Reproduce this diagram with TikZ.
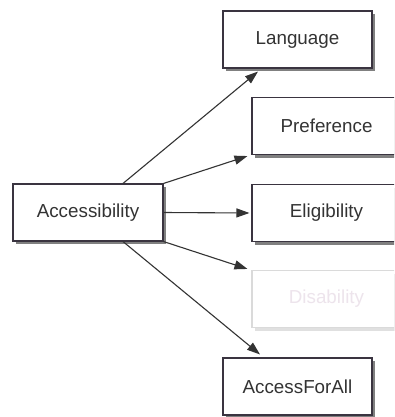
\documentclass[tikz,border=0pt]{standalone}
\usepackage{fontspec}
\setmainfont{Liberation Sans}
\usetikzlibrary{arrows.meta,shadows}
\definecolor{ink}{HTML}{333333}
\definecolor{edge}{HTML}{3A3440}
\definecolor{faint}{HTML}{DADADA}
\definecolor{faintText}{HTML}{EDE4EC}
\tikzset{
  box/.style={draw=edge, line width=1.1pt, fill=white, text=ink,
    minimum width=149pt, minimum height=57pt, inner sep=0pt,
    font=\fontsize{18.8}{22}\selectfont,
    drop shadow={shadow xshift=3pt, shadow yshift=-3pt, fill=black!50, opacity=1}},
  greybox/.style={box, draw=faint, text=faintText,
    drop shadow={shadow xshift=3pt, shadow yshift=-3pt, fill=black!12, opacity=1}},
  link/.style={draw=ink, line width=1.1pt, -{Triangle[length=13pt,width=9pt]}}
}
\begin{document}
\begin{tikzpicture}[x=1pt,y=-1pt]
  \useasboundingbox (0,0) rectangle (394,417);
  \clip (0,0) rectangle (394,417);
  \fill[white] (0,0) rectangle (394,417);

  % source concept
  \node[box, minimum width=150pt] (acc) at (88,212.5) {Accessibility};

  % related concepts
  \node[box] (lang) at (297.5,39.5) {Language};
  \node[box] (pref) at (326.5,126) {Preference};
  \node[box] (elig) at (326.5,213) {Eligibility};
  \node[greybox] (dis) at (326.5,299) {Disability};
  \node[box] (afa) at (297.5,386.5) {AccessForAll};

  % connectors
  \draw[link] ([xshift=35pt]acc.north) -- ([xshift=-39.5pt,yshift=-3pt]lang.south);
  \draw[link] (acc.north east) -- ([xshift=-4pt,yshift=-1pt]pref.south west);
  \draw[link] (acc.east) -- ([xshift=-2pt]elig.west);
  \draw[link] (acc.south east) -- ([xshift=-4pt,yshift=1pt]dis.north west);
  \draw[link] ([xshift=35pt]acc.south) -- ([xshift=-37.5pt,yshift=3pt]afa.north);
\end{tikzpicture}
\end{document}
